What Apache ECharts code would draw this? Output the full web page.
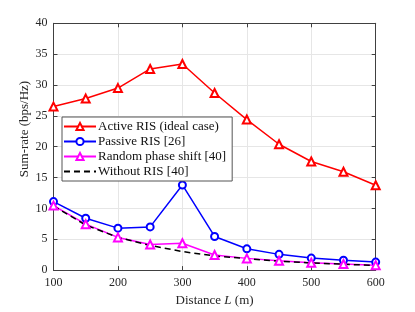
<!DOCTYPE html>
<html><head><meta charset="utf-8">
<script src="https://cdn.jsdelivr.net/npm/echarts@6/dist/echarts.min.js"></script>
<style>html,body{margin:0;padding:0;background:#fff}#c{width:415px;height:312px}</style>
</head><body><div id="c"></div>
<script>
const distances = [100,150,200,250,300,350,400,450,500,550,600];
const activeRIS = [26.5,27.8,29.5,32.6,33.4,28.7,24.4,20.4,17.6,15.95,13.75];
const passiveRIS = [11.1,8.4,6.8,7.0,13.8,5.45,3.45,2.55,1.95,1.6,1.3];
const randomPhase = [10.45,7.45,5.3,4.15,4.35,2.45,1.9,1.5,1.2,1.0,0.8];
const withoutRIS = [10.4,7.3,5.3,4.0,3.0,2.3,1.85,1.45,1.15,0.95,0.75];
const seriesNames = ['Active RIS (ideal case)','Passive RIS [26]','Random phase shift [40]','Without RIS [40]'];
const xTicks = {min:100,max:600,interval:100};
const yTicks = {min:0,max:40,interval:5};

const FONT = '"Liberation Serif", "DejaVu Serif", serif';
const axisColor = '#404040';
const pair = (xs, ys) => xs.map((x,i)=>[x,ys[i]]);

const chart = echarts.init(document.getElementById('c'), null, {renderer:'canvas'});
const baseX = {type:'value', min:xTicks.min, max:xTicks.max, interval:xTicks.interval};
const baseY = {type:'value', min:yTicks.min, max:yTicks.max, interval:yTicks.interval};
chart.setOption({
  animation:false,
  textStyle:{fontFamily:FONT},
  grid:{left:53.5, right:39.3, top:23.3, bottom:34.7, containLabel:false},
  xAxis:[
    Object.assign({}, baseX, {
      position:'bottom',
      axisLine:{show:true, onZero:false, lineStyle:{color:axisColor, width:1}},
      axisTick:{show:true, inside:true, length:4, lineStyle:{color:axisColor}},
      axisLabel:{color:'#262626', fontSize:12, fontFamily:FONT, margin:7},
      splitLine:{show:true, lineStyle:{color:'#e6e6e6', width:1}},
      name:'Distance {it|L} (m)', nameLocation:'middle', nameGap:23,
      nameTextStyle:{color:'#262626', fontSize:13, fontFamily:FONT,
        rich:{it:{fontStyle:'italic', fontSize:13, fontFamily:FONT, color:'#262626'}}}
    }),
    Object.assign({}, baseX, {
      position:'top',
      axisLine:{show:true, onZero:false, lineStyle:{color:axisColor, width:1}},
      axisTick:{show:true, inside:true, length:4, lineStyle:{color:axisColor}},
      axisLabel:{show:false}, splitLine:{show:false}
    })
  ],
  yAxis:[
    Object.assign({}, baseY, {
      position:'left',
      axisLine:{show:true, onZero:false, lineStyle:{color:axisColor, width:1}},
      axisTick:{show:true, inside:true, length:4, lineStyle:{color:axisColor}},
      axisLabel:{color:'#262626', fontSize:12, fontFamily:FONT, margin:6},
      splitLine:{show:true, lineStyle:{color:'#e6e6e6', width:1}}
    }),
    Object.assign({}, baseY, {
      position:'right',
      axisLine:{show:true, onZero:false, lineStyle:{color:axisColor, width:1}},
      axisTick:{show:true, inside:true, length:4, lineStyle:{color:axisColor}},
      axisLabel:{show:false}, splitLine:{show:false}
    })
  ],
  graphic:[{
    type:'text', x:25, y:129, rotation:Math.PI/2,
    style:{text:'Sum-rate (bps/Hz)', font:'13px '+FONT, fill:'#262626', align:'center', verticalAlign:'middle'}
  }],
  legend:{
    orient:'vertical', left:62, top:117,
    backgroundColor:'#fff', borderColor:'#555', borderWidth:1, borderRadius:0,
    padding:[3,6,3,1], itemWidth:32, itemHeight:9, itemGap:2,
    textStyle:{fontFamily:FONT, fontSize:13, color:'#111', padding:[0,0,0,-3]},
    data:[
      {name:seriesNames[0]},
      {name:seriesNames[1]},
      {name:seriesNames[2]},
      {name:seriesNames[3], itemStyle:{opacity:0}}
    ]
  },
  series:[
    {name:seriesNames[0], type:'line', data:pair(distances, activeRIS),
     symbol:'emptyTriangle', symbolSize:8, lineStyle:{color:'#ff0000', width:1.5},
     itemStyle:{color:'#ff0000', borderWidth:1.5}},
    {name:seriesNames[1], type:'line', data:pair(distances, passiveRIS),
     symbol:'emptyCircle', symbolSize:7, lineStyle:{color:'#0000ff', width:1.5},
     itemStyle:{color:'#0000ff', borderWidth:1.5}},
    {name:seriesNames[2], type:'line', data:pair(distances, randomPhase),
     symbol:'emptyTriangle', symbolSize:8, lineStyle:{color:'#ff00ff', width:1.5},
     itemStyle:{color:'#ff00ff', borderWidth:1.5}},
    {name:seriesNames[3], type:'line', data:pair(distances, withoutRIS),
     symbol:'none', showSymbol:false, lineStyle:{color:'#000000', width:1.5, type:[6,4]},
     itemStyle:{color:'#000000'}}
  ]
});
</script></body></html>
